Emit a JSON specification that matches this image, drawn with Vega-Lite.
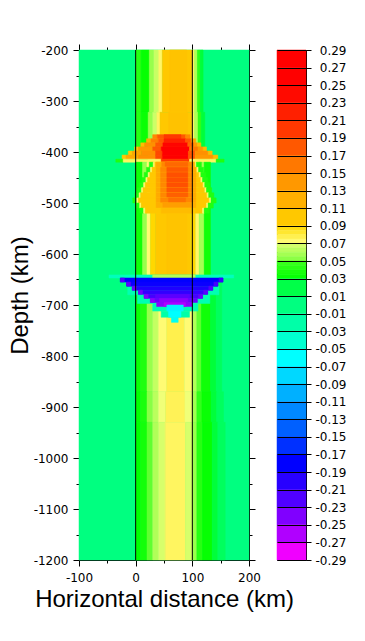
{
"$schema":"https://vega.github.io/schema/vega-lite/v6.json",
"padding":{"left":8,"top":43,"right":0,"bottom":0},
"background":"white",
"bounds":"flush",
"spacing":28,
"config":{
 "view":{"stroke":"black","strokeWidth":1},
 "axis":{"labelFont":"DejaVu Sans","labelFontSize":12,"labelColor":"black","tickColor":"black","tickWidth":1,"domain":false,"grid":false,"titleFont":"Liberation Sans","titleFontSize":24,"titleFontWeight":"normal","titleColor":"black","labelOverlap":false,"labelFlush":false}
},
"datasets":{
 "lines":[{"x":0},{"x":100}],
 "bar":[{"lo":0.27,"hi":0.29,"v":0.28},{"lo":0.25,"hi":0.27,"v":0.26},{"lo":0.23,"hi":0.25,"v":0.24},{"lo":0.21,"hi":0.23,"v":0.22},{"lo":0.19,"hi":0.21,"v":0.2},{"lo":0.17,"hi":0.19,"v":0.18},{"lo":0.15,"hi":0.17,"v":0.16},{"lo":0.13,"hi":0.15,"v":0.14},{"lo":0.11,"hi":0.13,"v":0.12},{"lo":0.09,"hi":0.11,"v":0.1},
 {"lo":0.085,"hi":0.09,"v":0.0875},{"lo":0.08,"hi":0.085,"v":0.0825},{"lo":0.075,"hi":0.08,"v":0.0775},{"lo":0.07,"hi":0.075,"v":0.0725},
 {"lo":0.065,"hi":0.07,"v":0.0675},{"lo":0.06,"hi":0.065,"v":0.0625},{"lo":0.055,"hi":0.06,"v":0.0575},{"lo":0.05,"hi":0.055,"v":0.0525},
 {"lo":0.045,"hi":0.05,"v":0.0475},{"lo":0.04,"hi":0.045,"v":0.0425},{"lo":0.035,"hi":0.04,"v":0.0375},{"lo":0.03,"hi":0.035,"v":0.0325},
 {"lo":0.01,"hi":0.03,"v":0.02},{"lo":-0.01,"hi":0.01,"v":0},{"lo":-0.03,"hi":-0.01,"v":-0.02},{"lo":-0.05,"hi":-0.03,"v":-0.04},{"lo":-0.07,"hi":-0.05,"v":-0.06},{"lo":-0.09,"hi":-0.07,"v":-0.08},{"lo":-0.11,"hi":-0.09,"v":-0.1},{"lo":-0.13,"hi":-0.11,"v":-0.12},{"lo":-0.15,"hi":-0.13,"v":-0.14},{"lo":-0.17,"hi":-0.15,"v":-0.16},{"lo":-0.19,"hi":-0.17,"v":-0.18},{"lo":-0.21,"hi":-0.19,"v":-0.2},{"lo":-0.23,"hi":-0.21,"v":-0.22},{"lo":-0.25,"hi":-0.23,"v":-0.24},{"lo":-0.27,"hi":-0.25,"v":-0.26},{"lo":-0.29,"hi":-0.27,"v":-0.28}],
 "field":[
 {"x":-100,"x2":200,"y":-200,"y2":-1200,"v":0},
 {"x":0,"x2":10,"y":-200,"y2":-322,"v":0.042},{"x":10,"x2":24,"y":-200,"y2":-322,"v":0.032},{"x":24,"x2":32,"y":-200,"y2":-322,"v":0.055},{"x":32,"x2":40,"y":-200,"y2":-322,"v":0.065},{"x":40,"x2":47,"y":-200,"y2":-322,"v":0.074},{"x":47,"x2":100,"y":-200,"y2":-322,"v":0.1},{"x":60,"x2":90,"y":-200,"y2":-322,"v":0.104},{"x":100,"x2":104,"y":-200,"y2":-322,"v":0.075},{"x":104,"x2":109,"y":-200,"y2":-322,"v":0.06},{"x":109,"x2":114,"y":-200,"y2":-322,"v":0.045},{"x":114,"x2":119,"y":-200,"y2":-322,"v":0.022},
 {"x":0,"x2":10,"y":-322,"y2":-420,"v":0.042},{"x":10,"x2":22,"y":-322,"y2":-420,"v":0.033},{"x":22,"x2":30,"y":-322,"y2":-420,"v":0.055},{"x":30,"x2":37,"y":-322,"y2":-420,"v":0.066},{"x":37,"x2":43,"y":-322,"y2":-420,"v":0.075},{"x":43,"x2":100,"y":-322,"y2":-420,"v":0.1},{"x":58,"x2":92,"y":-322,"y2":-420,"v":0.105},{"x":100,"x2":104,"y":-322,"y2":-420,"v":0.075},{"x":104,"x2":110,"y":-322,"y2":-420,"v":0.06},{"x":110,"x2":116,"y":-322,"y2":-420,"v":0.045},{"x":116,"x2":122,"y":-322,"y2":-420,"v":0.022},
 {"x":30,"x2":38,"y":-366,"y2":-374,"v":0.15},{"x":38,"x2":88,"y":-366,"y2":-374,"v":0.18},{"x":50,"x2":80,"y":-366,"y2":-374,"v":0.2},{"x":88,"x2":96,"y":-366,"y2":-374,"v":0.15},
 {"x":19,"x2":27,"y":-374,"y2":-382,"v":0.12},{"x":27,"x2":40,"y":-374,"y2":-382,"v":0.155},{"x":40,"x2":50,"y":-374,"y2":-382,"v":0.18},{"x":50,"x2":88,"y":-374,"y2":-382,"v":0.22},{"x":88,"x2":98,"y":-374,"y2":-382,"v":0.18},{"x":98,"x2":106,"y":-374,"y2":-382,"v":0.13},
 {"x":9,"x2":16,"y":-382,"y2":-390,"v":0.11},{"x":16,"x2":35,"y":-382,"y2":-390,"v":0.145},{"x":35,"x2":48,"y":-382,"y2":-390,"v":0.18},{"x":48,"x2":92,"y":-382,"y2":-390,"v":0.25},{"x":92,"x2":103,"y":-382,"y2":-390,"v":0.17},{"x":103,"x2":109,"y":-382,"y2":-390,"v":0.14},{"x":109,"x2":115,"y":-382,"y2":-390,"v":0.11},
 {"x":-2,"x2":5,"y":-390,"y2":-398,"v":0.1},{"x":5,"x2":30,"y":-390,"y2":-398,"v":0.14},{"x":30,"x2":45,"y":-390,"y2":-398,"v":0.18},{"x":45,"x2":95,"y":-390,"y2":-398,"v":0.27},{"x":95,"x2":110,"y":-390,"y2":-398,"v":0.16},{"x":110,"x2":119,"y":-390,"y2":-398,"v":0.14},{"x":119,"x2":125,"y":-390,"y2":-398,"v":0.11},
 {"x":-13,"x2":-6,"y":-398,"y2":-406,"v":0.1},{"x":-6,"x2":10,"y":-398,"y2":-406,"v":0.13},{"x":10,"x2":35,"y":-398,"y2":-406,"v":0.145},{"x":35,"x2":47,"y":-398,"y2":-406,"v":0.19},{"x":47,"x2":93,"y":-398,"y2":-406,"v":0.27},{"x":93,"x2":105,"y":-398,"y2":-406,"v":0.18},{"x":105,"x2":128,"y":-398,"y2":-406,"v":0.145},{"x":128,"x2":135,"y":-398,"y2":-406,"v":0.11},
 {"x":-24,"x2":-17,"y":-406,"y2":-414,"v":0.1},{"x":-17,"x2":5,"y":-406,"y2":-414,"v":0.125},{"x":5,"x2":35,"y":-406,"y2":-414,"v":0.145},{"x":35,"x2":47,"y":-406,"y2":-414,"v":0.19},{"x":47,"x2":93,"y":-406,"y2":-414,"v":0.27},{"x":93,"x2":105,"y":-406,"y2":-414,"v":0.18},{"x":105,"x2":137,"y":-406,"y2":-414,"v":0.14},{"x":137,"x2":145,"y":-406,"y2":-414,"v":0.11},
 {"x":-35,"x2":-22,"y":-414,"y2":-420,"v":0.04},{"x":-22,"x2":45,"y":-414,"y2":-420,"v":0.075},{"x":45,"x2":95,"y":-414,"y2":-420,"v":0.2},{"x":95,"x2":142,"y":-414,"y2":-420,"v":0.075},{"x":142,"x2":156,"y":-414,"y2":-420,"v":0.04},
 {"x":0,"x2":12,"y":-420,"y2":-641,"v":0.035},{"x":12,"x2":20,"y":-420,"y2":-641,"v":0.055},{"x":20,"x2":26,"y":-420,"y2":-641,"v":0.072},{"x":26,"x2":35,"y":-420,"y2":-641,"v":0.09},{"x":35,"x2":97,"y":-420,"y2":-641,"v":0.1},{"x":55,"x2":90,"y":-420,"y2":-641,"v":0.103},{"x":97,"x2":106,"y":-420,"y2":-641,"v":0.09},{"x":106,"x2":112,"y":-420,"y2":-641,"v":0.074},{"x":112,"x2":121,"y":-420,"y2":-641,"v":0.058},{"x":121,"x2":132,"y":-420,"y2":-641,"v":0.035},
 {"x":24,"x2":31,"y":-420,"y2":-430,"v":0.04},{"x":31,"x2":34,"y":-420,"y2":-430,"v":0.072},{"x":34,"x2":104,"y":-420,"y2":-430,"v":0.1},{"x":104,"x2":107,"y":-420,"y2":-430,"v":0.072},{"x":107,"x2":116,"y":-420,"y2":-430,"v":0.04},{"x":36,"x2":104,"y":-420,"y2":-430,"v":0.125},{"x":46,"x2":98,"y":-420,"y2":-430,"v":0.15},{"x":52,"x2":92,"y":-420,"y2":-430,"v":0.17},
 {"x":19,"x2":26,"y":-430,"y2":-440,"v":0.04},{"x":26,"x2":29,"y":-430,"y2":-440,"v":0.072},{"x":29,"x2":108,"y":-430,"y2":-440,"v":0.1},{"x":108,"x2":111,"y":-430,"y2":-440,"v":0.072},{"x":111,"x2":120,"y":-430,"y2":-440,"v":0.04},{"x":36,"x2":106,"y":-430,"y2":-440,"v":0.125},{"x":44,"x2":100,"y":-430,"y2":-440,"v":0.15},{"x":55,"x2":92,"y":-430,"y2":-440,"v":0.18},
 {"x":15,"x2":22,"y":-440,"y2":-450,"v":0.04},{"x":22,"x2":25,"y":-440,"y2":-450,"v":0.072},{"x":25,"x2":112,"y":-440,"y2":-450,"v":0.1},{"x":112,"x2":115,"y":-440,"y2":-450,"v":0.072},{"x":115,"x2":124,"y":-440,"y2":-450,"v":0.04},{"x":36,"x2":106,"y":-440,"y2":-450,"v":0.125},{"x":44,"x2":100,"y":-440,"y2":-450,"v":0.15},{"x":55,"x2":92,"y":-440,"y2":-450,"v":0.185},
 {"x":11,"x2":18,"y":-450,"y2":-460,"v":0.04},{"x":18,"x2":21,"y":-450,"y2":-460,"v":0.072},{"x":21,"x2":115,"y":-450,"y2":-460,"v":0.1},{"x":115,"x2":118,"y":-450,"y2":-460,"v":0.072},{"x":118,"x2":127,"y":-450,"y2":-460,"v":0.04},{"x":36,"x2":106,"y":-450,"y2":-460,"v":0.125},{"x":44,"x2":100,"y":-450,"y2":-460,"v":0.15},{"x":55,"x2":92,"y":-450,"y2":-460,"v":0.185},
 {"x":7,"x2":14,"y":-460,"y2":-470,"v":0.04},{"x":14,"x2":17,"y":-460,"y2":-470,"v":0.072},{"x":17,"x2":119,"y":-460,"y2":-470,"v":0.1},{"x":119,"x2":122,"y":-460,"y2":-470,"v":0.072},{"x":122,"x2":131,"y":-460,"y2":-470,"v":0.04},{"x":36,"x2":106,"y":-460,"y2":-470,"v":0.125},{"x":44,"x2":100,"y":-460,"y2":-470,"v":0.15},{"x":55,"x2":92,"y":-460,"y2":-470,"v":0.185},
 {"x":3,"x2":10,"y":-470,"y2":-480,"v":0.04},{"x":10,"x2":13,"y":-470,"y2":-480,"v":0.072},{"x":13,"x2":122,"y":-470,"y2":-480,"v":0.1},{"x":122,"x2":125,"y":-470,"y2":-480,"v":0.072},{"x":125,"x2":134,"y":-470,"y2":-480,"v":0.04},{"x":36,"x2":106,"y":-470,"y2":-480,"v":0.125},{"x":44,"x2":100,"y":-470,"y2":-480,"v":0.15},{"x":55,"x2":92,"y":-470,"y2":-480,"v":0.18},
 {"x":-1,"x2":6,"y":-480,"y2":-490,"v":0.04},{"x":6,"x2":9,"y":-480,"y2":-490,"v":0.072},{"x":9,"x2":126,"y":-480,"y2":-490,"v":0.1},{"x":126,"x2":129,"y":-480,"y2":-490,"v":0.072},{"x":129,"x2":138,"y":-480,"y2":-490,"v":0.04},{"x":36,"x2":106,"y":-480,"y2":-490,"v":0.125},{"x":44,"x2":100,"y":-480,"y2":-490,"v":0.15},{"x":55,"x2":92,"y":-480,"y2":-490,"v":0.175},
 {"x":-5,"x2":2,"y":-490,"y2":-500,"v":0.04},{"x":2,"x2":5,"y":-490,"y2":-500,"v":0.072},{"x":5,"x2":130,"y":-490,"y2":-500,"v":0.1},{"x":130,"x2":133,"y":-490,"y2":-500,"v":0.072},{"x":133,"x2":142,"y":-490,"y2":-500,"v":0.04},{"x":36,"x2":106,"y":-490,"y2":-500,"v":0.125},{"x":44,"x2":100,"y":-490,"y2":-500,"v":0.15},{"x":58,"x2":88,"y":-490,"y2":-500,"v":0.165},
 {"x":0,"x2":7,"y":-500,"y2":-510,"v":0.04},{"x":7,"x2":10,"y":-500,"y2":-510,"v":0.072},{"x":10,"x2":125,"y":-500,"y2":-510,"v":0.1},{"x":125,"x2":128,"y":-500,"y2":-510,"v":0.072},{"x":128,"x2":137,"y":-500,"y2":-510,"v":0.04},{"x":36,"x2":106,"y":-500,"y2":-510,"v":0.12},{"x":48,"x2":98,"y":-500,"y2":-510,"v":0.135},
 {"x":7,"x2":14,"y":-510,"y2":-520,"v":0.04},{"x":14,"x2":17,"y":-510,"y2":-520,"v":0.072},{"x":17,"x2":118,"y":-510,"y2":-520,"v":0.1},{"x":118,"x2":121,"y":-510,"y2":-520,"v":0.072},{"x":121,"x2":130,"y":-510,"y2":-520,"v":0.04},{"x":45,"x2":100,"y":-510,"y2":-520,"v":0.11},
 {"x":0,"x2":8,"y":-647,"y2":-870,"v":0.033},{"x":8,"x2":20,"y":-647,"y2":-870,"v":0.04},{"x":20,"x2":30,"y":-647,"y2":-870,"v":0.055},{"x":30,"x2":40,"y":-647,"y2":-870,"v":0.064},{"x":40,"x2":55,"y":-647,"y2":-870,"v":0.072},{"x":55,"x2":86,"y":-647,"y2":-870,"v":0.078},{"x":86,"x2":100,"y":-647,"y2":-870,"v":0.072},{"x":100,"x2":108,"y":-647,"y2":-870,"v":0.06},{"x":108,"x2":116,"y":-647,"y2":-870,"v":0.05},{"x":116,"x2":132,"y":-647,"y2":-870,"v":0.035},{"x":132,"x2":142,"y":-647,"y2":-870,"v":0.022},{"x":142,"x2":152,"y":-647,"y2":-870,"v":0.012},
 {"x":0,"x2":8,"y":-870,"y2":-930,"v":0.031},{"x":8,"x2":20,"y":-870,"y2":-930,"v":0.038},{"x":20,"x2":30,"y":-870,"y2":-930,"v":0.052},{"x":30,"x2":40,"y":-870,"y2":-930,"v":0.062},{"x":40,"x2":53,"y":-870,"y2":-930,"v":0.07},{"x":53,"x2":87,"y":-870,"y2":-930,"v":0.0765},{"x":87,"x2":100,"y":-870,"y2":-930,"v":0.07},{"x":100,"x2":108,"y":-870,"y2":-930,"v":0.057},{"x":108,"x2":117,"y":-870,"y2":-930,"v":0.046},{"x":117,"x2":133,"y":-870,"y2":-930,"v":0.033},{"x":133,"x2":143,"y":-870,"y2":-930,"v":0.022},{"x":143,"x2":155,"y":-870,"y2":-930,"v":0.012},
 {"x":0,"x2":8,"y":-930,"y2":-1200,"v":0.03},{"x":8,"x2":20,"y":-930,"y2":-1200,"v":0.036},{"x":20,"x2":30,"y":-930,"y2":-1200,"v":0.05},{"x":30,"x2":40,"y":-930,"y2":-1200,"v":0.06},{"x":40,"x2":52,"y":-930,"y2":-1200,"v":0.068},{"x":52,"x2":88,"y":-930,"y2":-1200,"v":0.075},{"x":88,"x2":100,"y":-930,"y2":-1200,"v":0.068},{"x":100,"x2":108,"y":-930,"y2":-1200,"v":0.055},{"x":108,"x2":118,"y":-930,"y2":-1200,"v":0.042},{"x":118,"x2":135,"y":-930,"y2":-1200,"v":0.032},{"x":135,"x2":145,"y":-930,"y2":-1200,"v":0.022},{"x":145,"x2":158,"y":-930,"y2":-1200,"v":0.012},
 {"x":-47,"x2":173,"y":-641,"y2":-647,"v":-0.03},{"x":30,"x2":105,"y":-641,"y2":-647,"v":0.06},
 {"x":-14,"x2":147,"y":-663,"y2":-680,"v":-0.025},{"x":3,"x2":131,"y":-680,"y2":-697,"v":-0.025},{"x":30,"x2":110,"y":-697,"y2":-712,"v":-0.025},{"x":45,"x2":95,"y":-712,"y2":-724,"v":-0.02},
 {"x":-27,"x2":154,"y":-647,"y2":-655,"v":-0.18},{"x":-27,"x2":-20,"y":-647,"y2":-655,"v":-0.22},{"x":147,"x2":154,"y":-647,"y2":-655,"v":-0.21},
 {"x":-16,"x2":145,"y":-655,"y2":-663,"v":-0.185},{"x":-16,"x2":-9,"y":-655,"y2":-663,"v":-0.225},{"x":138,"x2":145,"y":-655,"y2":-663,"v":-0.215},
 {"x":-6,"x2":136,"y":-663,"y2":-671,"v":-0.195},{"x":-6,"x2":1,"y":-663,"y2":-671,"v":-0.23},{"x":129,"x2":136,"y":-663,"y2":-671,"v":-0.22},
 {"x":5,"x2":127,"y":-671,"y2":-679,"v":-0.205},{"x":5,"x2":12,"y":-671,"y2":-679,"v":-0.235},{"x":120,"x2":127,"y":-671,"y2":-679,"v":-0.225},
 {"x":15,"x2":118,"y":-679,"y2":-687,"v":-0.215},{"x":35,"x2":95,"y":-679,"y2":-687,"v":-0.225},{"x":15,"x2":22,"y":-679,"y2":-687,"v":-0.24},{"x":111,"x2":118,"y":-679,"y2":-687,"v":-0.23},
 {"x":26,"x2":109,"y":-687,"y2":-695,"v":-0.23},{"x":42,"x2":92,"y":-687,"y2":-695,"v":-0.245},{"x":26,"x2":33,"y":-687,"y2":-695,"v":-0.245},
 {"x":37,"x2":100,"y":-695,"y2":-703,"v":-0.245},{"x":50,"x2":88,"y":-695,"y2":-703,"v":-0.26},
 {"x":55,"x2":84,"y":-700,"y2":-712,"v":-0.065},{"x":58,"x2":80,"y":-712,"y2":-724,"v":-0.06},{"x":63,"x2":75,"y":-724,"y2":-734,"v":-0.055}
 ]
},
"hconcat":[
 {
  "width":170,"height":510,
  "layer":[
   {
    "data":{"name":"field"},
    "mark":{"type":"rect","strokeWidth":0.5},
    "encoding":{
     "x":{"field":"x","type":"quantitative","scale":{"domain":[-100,200],"nice":false,"zero":false},
      "axis":{"orient":"bottom","values":[-100,-50,0,50,100,150,200],"format":"d","labelExpr":"datum.value % 100 === 0 ? replace(datum.label, '\u2212', '-') : ''","tickSize":{"condition":{"test":"datum.value % 100 === 0","value":6},"value":3},"labelPadding":6,"title":"Horizontal distance (km)","titleY":46.7,"titleBaseline":"alphabetic"}},
     "x2":{"field":"x2"},
     "y":{"field":"y","type":"quantitative","scale":{"domain":[-1200,-200],"nice":false,"zero":false},
      "axis":{"orient":"left","values":[-200,-250,-300,-350,-400,-450,-500,-550,-600,-650,-700,-750,-800,-850,-900,-950,-1000,-1050,-1100,-1150,-1200],"format":"d","labelExpr":"datum.value % 100 === 0 ? replace(datum.label, '\u2212', '-') : ''","tickSize":{"condition":{"test":"datum.value % 100 === 0","value":6},"value":3},"labelPadding":5,"title":"Depth (km)","titleX":-51.3,"titleY":245,"titleAngle":270,"titleBaseline":"alphabetic"}},
     "y2":{"field":"y2"},
     "color":{"field":"v","type":"quantitative","legend":null,"scale":{"type":"linear","clamp":true,"interpolate":"rgb","domain":[-0.29,-0.28,-0.26,-0.24,-0.22,-0.2,-0.18,-0.16,-0.14,-0.12,-0.1,-0.08,-0.06,-0.04,-0.02,0,0.02,0.03,0.0499,0.0501,0.0699,0.0701,0.09,0.1,0.12,0.14,0.16,0.18,0.2,0.22,0.24,0.26,0.29],"range":["#F000FF","#F000FF","#B000FF","#8000FF","#5000FF","#2800FF","#0000FF","#0030FF","#0060FF","#0088FF","#00B0FF","#00D8FF","#00FFFF","#00FFD0","#00FFA8","#00FF80","#00FF48","#00FF00","#40FF20","#80FF40","#E0FF70","#FFFF80","#FFD800","#FFC800","#FFB000","#FF9800","#FF7800","#FF5800","#FF3800","#FF2000","#FF0A00","#FF0000","#FF0000"]}},
     "stroke":{"field":"v","type":"quantitative","legend":null,"scale":{"type":"linear","clamp":true,"interpolate":"rgb","domain":[-0.29,-0.28,-0.26,-0.24,-0.22,-0.2,-0.18,-0.16,-0.14,-0.12,-0.1,-0.08,-0.06,-0.04,-0.02,0,0.02,0.03,0.0499,0.0501,0.0699,0.0701,0.09,0.1,0.12,0.14,0.16,0.18,0.2,0.22,0.24,0.26,0.29],"range":["#F000FF","#F000FF","#B000FF","#8000FF","#5000FF","#2800FF","#0000FF","#0030FF","#0060FF","#0088FF","#00B0FF","#00D8FF","#00FFFF","#00FFD0","#00FFA8","#00FF80","#00FF48","#00FF00","#40FF20","#80FF40","#E0FF70","#FFFF80","#FFD800","#FFC800","#FFB000","#FF9800","#FF7800","#FF5800","#FF3800","#FF2000","#FF0A00","#FF0000","#FF0000"]}}
    }
   },
   {
    "data":{"name":"lines"},
    "mark":{"type":"rule","color":"black","strokeWidth":1},
    "encoding":{
     "x":{"field":"x","type":"quantitative","axis":{"orient":"top","values":[-100,-50,0,50,100,150,200],"labels":false,"tickSize":{"condition":{"test":"datum.value % 100 === 0","value":6},"value":3},"title":null}},
     "y":{"datum":-1200,"type":"quantitative","axis":{"orient":"right","values":[-200,-250,-300,-350,-400,-450,-500,-550,-600,-650,-700,-750,-800,-850,-900,-950,-1000,-1050,-1100,-1150,-1200],"labels":false,"tickSize":{"condition":{"test":"datum.value % 100 === 0","value":6},"value":3},"title":null}},
     "y2":{"datum":-200}
    }
   }
  ],
  "resolve":{"axis":{"x":"independent","y":"independent"}}
 },
 {
  "width":29,"height":510,
  "data":{"name":"bar"},
  "mark":{"type":"rect","strokeWidth":0.5},
  "encoding":{
   "y":{"field":"lo","type":"quantitative","scale":{"domain":[-0.29,0.29],"nice":false,"zero":false},
    "axis":{"orient":"right","values":[0.29,0.27,0.25,0.23,0.21,0.19,0.17,0.15,0.13,0.11,0.09,0.07,0.05,0.03,0.01,-0.01,-0.03,-0.05,-0.07,-0.09,-0.11,-0.13,-0.15,-0.17,-0.19,-0.21,-0.23,-0.25,-0.27,-0.29],"format":".2f","labelExpr":"replace(datum.label, '\u2212', '-')","tickSize":5,"labelAlign":"right","labelPadding":35,"grid":true,"gridColor":"black","gridOpacity":1,"gridWidth":1,"zindex":1,"title":null}},
   "y2":{"field":"hi"},
   "color":{"field":"v","type":"quantitative","legend":null,"scale":{"type":"linear","clamp":true,"interpolate":"rgb","domain":[-0.29,-0.28,-0.26,-0.24,-0.22,-0.2,-0.18,-0.16,-0.14,-0.12,-0.1,-0.08,-0.06,-0.04,-0.02,0,0.02,0.03,0.0499,0.0501,0.0699,0.0701,0.09,0.1,0.12,0.14,0.16,0.18,0.2,0.22,0.24,0.26,0.29],"range":["#F000FF","#F000FF","#B000FF","#8000FF","#5000FF","#2800FF","#0000FF","#0030FF","#0060FF","#0088FF","#00B0FF","#00D8FF","#00FFFF","#00FFD0","#00FFA8","#00FF80","#00FF48","#00FF00","#40FF20","#80FF40","#E0FF70","#FFFF80","#FFD800","#FFC800","#FFB000","#FF9800","#FF7800","#FF5800","#FF3800","#FF2000","#FF0A00","#FF0000","#FF0000"]}},
   "stroke":{"field":"v","type":"quantitative","legend":null,"scale":{"type":"linear","clamp":true,"interpolate":"rgb","domain":[-0.29,-0.28,-0.26,-0.24,-0.22,-0.2,-0.18,-0.16,-0.14,-0.12,-0.1,-0.08,-0.06,-0.04,-0.02,0,0.02,0.03,0.0499,0.0501,0.0699,0.0701,0.09,0.1,0.12,0.14,0.16,0.18,0.2,0.22,0.24,0.26,0.29],"range":["#F000FF","#F000FF","#B000FF","#8000FF","#5000FF","#2800FF","#0000FF","#0030FF","#0060FF","#0088FF","#00B0FF","#00D8FF","#00FFFF","#00FFD0","#00FFA8","#00FF80","#00FF48","#00FF00","#40FF20","#80FF40","#E0FF70","#FFFF80","#FFD800","#FFC800","#FFB000","#FF9800","#FF7800","#FF5800","#FF3800","#FF2000","#FF0A00","#FF0000","#FF0000"]}}
  }
 }
]
}
